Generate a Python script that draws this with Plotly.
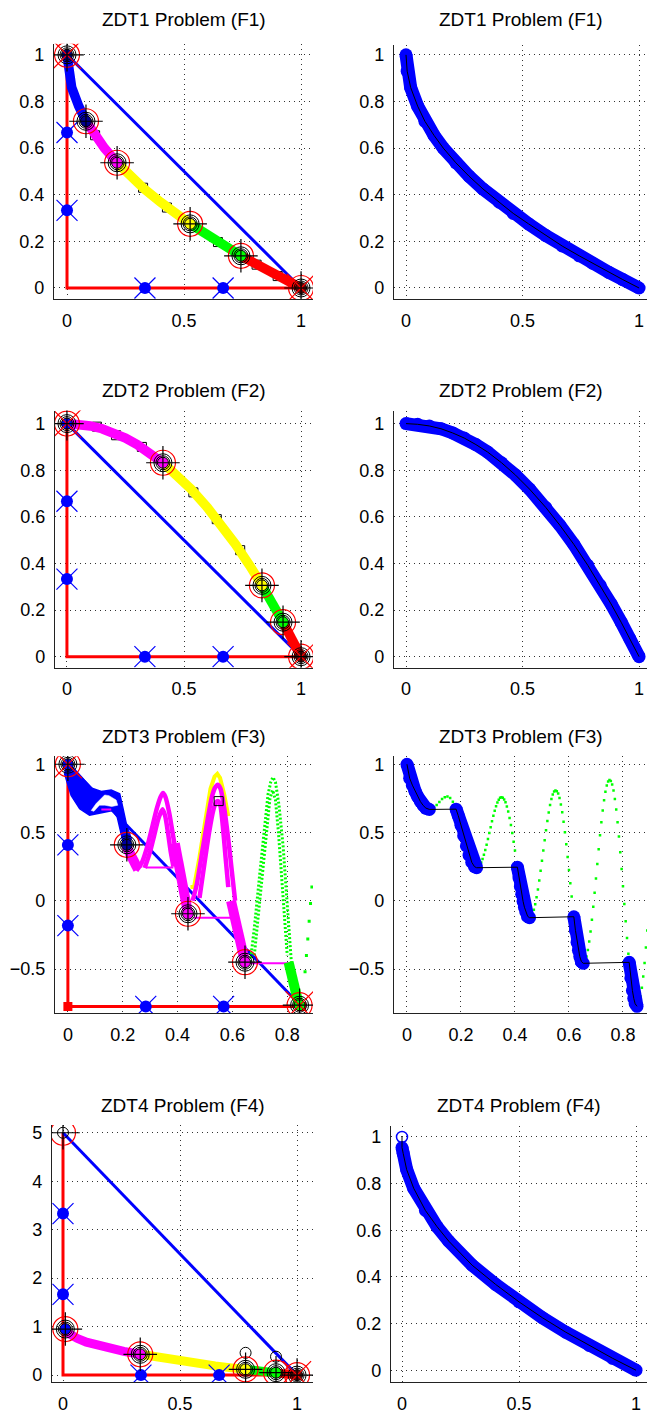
import plotly.graph_objects as go

W, H = 647, 1414
FONT = "Liberation Sans, Arial, Helvetica, sans-serif"

BLUE, MAG, YEL, GRN, RED = "#0000ff", "#ff00ff", "#ffff00", "#00ff00", "#ff0000"

# ------------------------------------------------------------------ data
titles = ["ZDT1 Problem (F1)", "ZDT1 Problem (F1)", "ZDT2 Problem (F2)", "ZDT2 Problem (F2)",
          "ZDT3 Problem (F3)", "ZDT3 Problem (F3)", "ZDT4 Problem (F4)", "ZDT4 Problem (F4)"]

# ZDT1 front
zdt1_f1 = [0, 0.005, 0.02, 0.05, 0.081, 0.12, 0.16, 0.214, 0.27, 0.33, 0.40, 0.46, 0.526,
           0.60, 0.67, 0.743, 0.80, 0.87, 0.93, 1.0]
zdt1_f2 = [1.0, 0.93, 0.86, 0.78, 0.715, 0.655, 0.60, 0.537, 0.48, 0.425, 0.368, 0.32, 0.275,
           0.225, 0.18, 0.138, 0.106, 0.067, 0.036, 0.0]
zdt1_break_f1 = [0.0, 0.081, 0.214, 0.526, 0.743, 1.0]
zdt1_break_f2 = [1.0, 0.715, 0.537, 0.275, 0.138, 0.0]
zdt1_seg_colors = [BLUE, MAG, YEL, GRN, RED]
zdt1_dot_colors = ["#000080", "#000090", MAG, YEL, GRN, "#5a0a0a"]
zdt1_sq_f1 = [0.12, 0.23, 0.325, 0.427, 0.645, 0.81, 0.90]
zdt1_sq_f2 = [0.655, 0.52, 0.43, 0.345, 0.197, 0.10, 0.051]
zdt1_ref_f1 = [0, 0, 0.333, 0.667]
zdt1_ref_f2 = [0.667, 0.333, 0, 0]
zdt1_box_f1 = [0, 0, 1.0]
zdt1_box_f2 = [1.0, 0, 0]

# ZDT2 front
zdt2_f1 = [0, 0.05, 0.10, 0.15, 0.20, 0.25, 0.30, 0.35, 0.41, 0.47, 0.53, 0.60, 0.66, 0.72,
           0.78, 0.833, 0.88, 0.923, 0.96, 1.0]
zdt2_f2 = [1.0, 0.997, 0.99, 0.978, 0.96, 0.938, 0.91, 0.878, 0.832, 0.779, 0.719, 0.64, 0.564,
           0.482, 0.392, 0.306, 0.226, 0.148, 0.078, 0.0]
zdt2_break_f1 = [0.0, 0.41, 0.833, 0.923, 1.0]
zdt2_break_f2 = [1.0, 0.832, 0.306, 0.148, 0.0]
zdt2_seg_colors = [MAG, YEL, GRN, RED]
zdt2_dot_colors = [BLUE, MAG, YEL, GRN, "#5a0a0a"]
zdt2_sq_f1 = [0.128, 0.21, 0.32, 0.54, 0.64, 0.74]
zdt2_sq_f2 = [0.987, 0.95, 0.90, 0.705, 0.59, 0.457]
zdt2_ref_f1 = [0, 0, 0.333, 0.667]
zdt2_ref_f2 = [0.667, 0.333, 0, 0]
zdt2_box_f1 = [0, 0, 1.0]
zdt2_box_f2 = [1.0, 0, 0]

# ZDT3 Pareto segments
zdt3_s1_f1 = [0, 0.01, 0.02, 0.03, 0.04, 0.05, 0.06, 0.07, 0.083]
zdt3_s1_f2 = [1.0, 0.897, 0.847, 0.803, 0.762, 0.726, 0.698, 0.679, 0.669]
zdt3_s2_f1 = [0.182, 0.19, 0.20, 0.21, 0.22, 0.23, 0.24, 0.25, 0.258]
zdt3_s2_f2 = [0.671, 0.623, 0.553, 0.477, 0.402, 0.334, 0.282, 0.25, 0.242]
zdt3_s3_f1 = [0.409, 0.415, 0.42, 0.425, 0.43, 0.435, 0.44, 0.447, 0.454]
zdt3_s3_f2 = [0.246, 0.167, 0.105, 0.048, -0.004, -0.047, -0.082, -0.114, -0.124]
zdt3_s4_f1 = [0.618, 0.624, 0.63, 0.635, 0.64, 0.646, 0.653]
zdt3_s4_f2 = [-0.117, -0.217, -0.304, -0.363, -0.409, -0.445, -0.458]
zdt3_s5_f1 = [0.823, 0.829, 0.835, 0.84, 0.845, 0.852]
zdt3_s5_f2 = [-0.451, -0.565, -0.658, -0.715, -0.754, -0.773]
# ZDT3 dominated parts of the curve (green dots)
zdt3_g_f1 = [0.09, 0.10, 0.11, 0.12, 0.13, 0.14, 0.15, 0.16, 0.17, 0.18,
             0.26, 0.27, 0.28, 0.29, 0.30, 0.31, 0.32, 0.33, 0.34, 0.35, 0.36, 0.37, 0.38, 0.39, 0.40,
             0.46, 0.47, 0.48, 0.49, 0.50, 0.51, 0.52, 0.53, 0.54, 0.55, 0.56, 0.57, 0.58, 0.59, 0.60, 0.61,
             0.66, 0.67, 0.68, 0.69, 0.70, 0.71, 0.72, 0.73, 0.74, 0.75, 0.76, 0.77, 0.78, 0.79, 0.80, 0.81, 0.82,
             0.86, 0.87, 0.88, 0.89]
zdt3_g_f2 = [0.672, 0.684, 0.702, 0.724, 0.745, 0.759, 0.763, 0.752, 0.725, 0.682,
             0.243, 0.262, 0.306, 0.372, 0.452, 0.539, 0.622, 0.692, 0.740, 0.758, 0.742, 0.691, 0.607, 0.496, 0.368,
             -0.116, -0.066, 0.025, 0.149, 0.293, 0.444, 0.585, 0.701, 0.779, 0.808, 0.785, 0.706, 0.579, 0.414, 0.225, 0.031,
             -0.440, -0.360, -0.225, -0.044, 0.163, 0.377, 0.575, 0.737, 0.844, 0.884, 0.851, 0.745, 0.576, 0.355, 0.106, -0.150, -0.388,
             -0.745, -0.637, -0.455, -0.218]
zdt3_h_f1 = [0.265, 0.275, 0.285, 0.295, 0.305, 0.315, 0.325, 0.335, 0.345, 0.355, 0.365, 0.375, 0.385, 0.395,
             0.465, 0.475, 0.485, 0.495, 0.505, 0.515, 0.525, 0.535, 0.545, 0.555, 0.565, 0.575, 0.585, 0.595, 0.605,
             0.665, 0.675, 0.685, 0.695, 0.705, 0.715, 0.725, 0.735, 0.745, 0.755, 0.765, 0.775, 0.785, 0.795, 0.805, 0.815,
             0.865, 0.875, 0.885]
zdt3_h_f2 = [0.249, 0.281, 0.337, 0.411, 0.496, 0.582, 0.660, 0.719, 0.754, 0.755, 0.721, 0.653, 0.555, 0.433,
             -0.096, -0.025, 0.083, 0.219, 0.368, 0.516, 0.646, 0.745, 0.800, 0.803, 0.752, 0.648, 0.501, 0.321, 0.128,
             -0.408, -0.299, -0.139, 0.058, 0.270, 0.479, 0.661, 0.798, 0.873, 0.877, 0.807, 0.668, 0.470, 0.232, -0.023, -0.273,
             -0.701, -0.554, -0.343]
# ZDT3 left panel (search picture)
zdt3_blue_top_f1 = [-0.006, 0.018, 0.085, 0.122, 0.158, 0.189, 0.200, 0.213, 0.231, 0.222]
zdt3_blue_top_f2 = [1.0, 0.978, 0.827, 0.80, 0.812, 0.783, 0.686, 0.564, 0.455, 0.40]
zdt3_blue_bot_f1 = [-0.012, 0.012, 0.043, 0.079, 0.116, 0.164, 0.18, 0.189, 0.20]
zdt3_blue_bot_f2 = [0.929, 0.771, 0.674, 0.626, 0.642, 0.661, 0.613, 0.527, 0.44]
zdt3_hole_f1 = [0.085, 0.103, 0.134, 0.15, 0.176, 0.182, 0.16, 0.135, 0.115, 0.095]
zdt3_hole_f2 = [0.661, 0.712, 0.775, 0.77, 0.738, 0.70, 0.69, 0.70, 0.70, 0.655]
zdt3_stair_x0 = [0.122, 0.285, 0.46, 0.655]
zdt3_stair_x1 = [0.158, 0.385, 0.595, 0.81]
zdt3_stair_y = [0.668, 0.243, -0.124, -0.458]
zdt3_thick_a_f1 = [0.213, 0.228, 0.242, 0.256]
zdt3_thick_a_f2 = [0.40, 0.33, 0.27, 0.23]
zdt3_thick_b_f1 = [0.39, 0.40, 0.41, 0.42, 0.43, 0.438]
zdt3_thick_b_f2 = [0.42, 0.33, 0.22, 0.10, 0.0, -0.09]
zdt3_thick_c_f1 = [0.595, 0.605, 0.615, 0.625, 0.635, 0.646]
zdt3_thick_c_f2 = [0.0, -0.10, -0.20, -0.29, -0.37, -0.45]
zdt3_thick_d_f1 = [0.805, 0.815, 0.825, 0.835, 0.842]
zdt3_thick_d_f2 = [-0.45, -0.55, -0.64, -0.72, -0.76]
zdt3_ha_out_f1 = [0.25, 0.27, 0.29, 0.31, 0.325, 0.338, 0.347, 0.356, 0.37, 0.385, 0.40]
zdt3_ha_out_f2 = [0.22, 0.28, 0.40, 0.56, 0.68, 0.76, 0.79, 0.76, 0.64, 0.46, 0.28]
zdt3_ha_in_f1 = [0.28, 0.30, 0.315, 0.33, 0.345, 0.355, 0.365, 0.375, 0.385]
zdt3_ha_in_f2 = [0.24, 0.36, 0.48, 0.60, 0.67, 0.62, 0.50, 0.36, 0.25]
zdt3_hb_yel_f1 = [0.447, 0.46, 0.48, 0.50, 0.52, 0.535, 0.545, 0.555, 0.57, 0.585]
zdt3_hb_yel_f2 = [0.10, 0.10, 0.32, 0.58, 0.82, 0.91, 0.93, 0.90, 0.78, 0.62]
zdt3_hb_out_f1 = [0.455, 0.47, 0.49, 0.51, 0.525, 0.537, 0.547, 0.557, 0.57, 0.585, 0.60, 0.61]
zdt3_hb_out_f2 = [0.0, 0.12, 0.36, 0.60, 0.76, 0.83, 0.85, 0.82, 0.68, 0.45, 0.18, 0.0]
zdt3_hb_in_f1 = [0.48, 0.50, 0.515, 0.53, 0.54, 0.548, 0.556, 0.565, 0.575, 0.585]
zdt3_hb_in_f2 = [0.02, 0.30, 0.50, 0.66, 0.72, 0.73, 0.70, 0.55, 0.32, 0.10]
zdt3_hc_out_f1 = [0.665, 0.68, 0.70, 0.715, 0.73, 0.74, 0.748, 0.757, 0.77, 0.785, 0.80, 0.815]
zdt3_hc_out_f2 = [-0.45, -0.20, 0.20, 0.50, 0.78, 0.87, 0.905, 0.87, 0.70, 0.40, 0.0, -0.45]
zdt3_hc_in_f1 = [0.68, 0.695, 0.71, 0.725, 0.737, 0.747, 0.757, 0.768, 0.78, 0.79, 0.80]
zdt3_hc_in_f2 = [-0.40, -0.10, 0.25, 0.55, 0.75, 0.81, 0.74, 0.50, 0.15, -0.15, -0.40]
zdt3_tail_f1 = [0.865, 0.87, 0.875, 0.88, 0.885, 0.89]
zdt3_tail_f2 = [-0.52, -0.40, -0.28, -0.15, -0.02, 0.10]
zdt3_break_f1 = [0.0, 0.215, 0.438, 0.646, 0.845]
zdt3_break_f2 = [1.0, 0.41, -0.095, -0.45, -0.765]
zdt3_dot_colors = [BLUE, "#0000a0", MAG, MAG, GRN]
zdt3_sq_f1 = [0.55]
zdt3_sq_f2 = [0.73]
zdt3_ref_f1 = [0, 0, 0.284, 0.568]
zdt3_ref_f2 = [0.409, -0.182, -0.774, -0.774]
zdt3_box_f1 = [0, 0, 0.852]
zdt3_box_f2 = [1.0, -0.774, -0.774]

# ZDT4 front
zdt4_f1 = [0, 0.01, 0.03, 0.06, 0.10, 0.15, 0.20, 0.26, 0.33, 0.40, 0.48, 0.56, 0.65, 0.72,
           0.78, 0.85, 0.91, 0.96, 1.0]
zdt4_f2 = [1.0, 0.90, 0.83, 0.76, 0.68, 0.61, 0.55, 0.49, 0.43, 0.37, 0.31, 0.25, 0.19, 0.15,
           0.12, 0.08, 0.046, 0.02, 0.0]
zdt4_break_f1 = [0.01, 0.33, 0.78, 0.91, 1.0]
zdt4_break_f2 = [0.95, 0.43, 0.12, 0.05, 0.0]
zdt4_seg_breaks = [0.0, 0.01, 0.33, 0.78, 0.91, 1.0]
zdt4_seg_colors = [BLUE, MAG, YEL, GRN, RED]
zdt4_dot_colors = [BLUE, MAG, YEL, GRN, "#5a0a0a"]
zdt4_small_f1 = [0.0, 0.78, 0.91]
zdt4_small_f2 = [5.0, 0.46, 0.38]
zdt4_ref_f1 = [0, 0, 0.333, 0.667]
zdt4_ref_f2 = [3.333, 1.667, 0, 0]
zdt4_box_f1 = [0, 0, 1.0]
zdt4_box_f2 = [5.0, 0, 0]
zdt4r_f1 = [0, 0.005, 0.02, 0.05, 0.10, 0.15, 0.20, 0.30, 0.40, 0.50, 0.60, 0.70, 0.80, 0.90, 1.0]
zdt4r_f2 = [0.955, 0.93, 0.86, 0.78, 0.685, 0.615, 0.553, 0.45, 0.368, 0.293, 0.225, 0.163, 0.106, 0.051, 0.0]
zdt4r_iso_f1 = [0.0]
zdt4r_iso_f2 = [1.0]

# ------------------------------------------------------------------ layout geometry (pixels)
# (left, right, top, bottom) of each axes box, and axis ranges
boxes = [(54, 313, 42, 298), (394, 647, 43, 298),
         (55, 313, 410, 668), (394, 647, 410, 668),
         (55, 313, 757, 1015), (394, 647, 757, 1015),
         (52, 313, 1127, 1385), (391, 647, 1128, 1385)]
xranges = [[-0.0556, 1.051], [-0.0515, 1.034], [-0.051, 1.051], [-0.0515, 1.034],
           [-0.047, 0.894], [-0.048, 0.889], [-0.047, 1.068], [-0.047, 1.047]]
yranges = [[-0.047, 1.047], [-0.047, 1.043], [-0.047, 1.056], [-0.047, 1.056],
           [-0.825, 1.058], [-0.825, 1.058], [-0.144, 5.16], [-0.051, 1.047]]
xt01 = [0, 0.5, 1]
yt01 = [0, 0.2, 0.4, 0.6, 0.8, 1]
xticks = [xt01, xt01, xt01, xt01, [0, 0.2, 0.4, 0.6, 0.8], [0, 0.2, 0.4, 0.6, 0.8], xt01, xt01]
yticks = [yt01, yt01, yt01, yt01, [-0.5, 0, 0.5, 1], [-0.5, 0, 0.5, 1], [0, 1, 2, 3, 4, 5], yt01]
title_y = [18, 18, 390, 390, 737, 737, 1107, 1107]

fig = go.Figure()


def axn(k):
    return ("x" if k == 1 else f"x{k}"), ("y" if k == 1 else f"y{k}")


def add(k, **kw):
    xa, ya = axn(k)
    fig.add_trace(go.Scatter(xaxis=xa, yaxis=ya, showlegend=False, hoverinfo="skip", **kw))


def seg_slice(xs, ys, a, b):
    pts = [(x, y) for x, y in zip(xs, ys) if a - 1e-9 <= x <= b + 1e-9]
    return [p[0] for p in pts], [p[1] for p in pts]


def frame_lines(k, bx, by):
    add(k, x=bx, y=by, mode="lines", line=dict(color=RED, width=3))
    add(k, x=[bx[0], bx[2]], y=[by[0], by[2]], mode="lines", line=dict(color=BLUE, width=3))


def ref_points(k, rx, ry):
    add(k, x=rx, y=ry, mode="markers", marker=dict(symbol="circle", size=12, color=BLUE))
    add(k, x=rx, y=ry, mode="markers",
        marker=dict(symbol="x-thin", size=21, color=BLUE, line=dict(width=1.2, color=BLUE)))


def cluster(k, cx, cy, fills, endx=(), endy=()):
    add(k, x=cx, y=cy, mode="markers",
        marker=dict(symbol="circle-open", size=25, color=RED, line=dict(width=1.2, color=RED)))
    add(k, x=cx, y=cy, mode="markers",
        marker=dict(symbol="circle-open", size=18, color="black", line=dict(width=1, color="black")))
    add(k, x=cx, y=cy, mode="markers",
        marker=dict(symbol="circle", size=11, color=fills, line=dict(width=1, color="black")))
    add(k, x=cx, y=cy, mode="markers",
        marker=dict(symbol="circle-open", size=14, color="black", line=dict(width=1, color="black")))
    if endx:
        add(k, x=list(endx), y=list(endy), mode="markers",
            marker=dict(symbol="x-thin", size=28, color=RED, line=dict(width=1.2, color=RED)))
    add(k, x=cx, y=cy, mode="markers",
        marker=dict(symbol="cross-thin", size=24, color="black", line=dict(width=1.2, color="black")))


def front_segments(k, fx, fy, breaks, colors, width=9.5):
    for i, c in enumerate(colors):
        sx, sy = seg_slice(fx, fy, breaks[i], breaks[i + 1])
        add(k, x=sx, y=sy, mode="lines", line=dict(color=c, width=width))


def squares(k, sx, sy):
    add(k, x=sx, y=sy, mode="markers",
        marker=dict(symbol="square-open", size=9, color="black", line=dict(width=1, color="black")))


def right_band(k, fx, fy):
    add(k, x=fx, y=fy, mode="lines+markers", line=dict(color=BLUE, width=13),
        marker=dict(symbol="circle", size=13, color=BLUE))


# ---------------- panel 1 : ZDT1 left
frame_lines(1, zdt1_box_f1, zdt1_box_f2)
squares(1, zdt1_sq_f1, zdt1_sq_f2)
front_segments(1, zdt1_f1, zdt1_f2, zdt1_break_f1, zdt1_seg_colors)
ref_points(1, zdt1_ref_f1, zdt1_ref_f2)
cluster(1, zdt1_break_f1, zdt1_break_f2, zdt1_dot_colors,
        [zdt1_break_f1[0], zdt1_break_f1[-1]], [zdt1_break_f2[0], zdt1_break_f2[-1]])

# ---------------- panel 2 : ZDT1 right
right_band(2, zdt1_f1, zdt1_f2)
add(2, x=zdt1_f1, y=zdt1_f2, mode="lines", line=dict(color="black", width=1))

# ---------------- panel 3 : ZDT2 left
frame_lines(3, zdt2_box_f1, zdt2_box_f2)
squares(3, zdt2_sq_f1, zdt2_sq_f2)
front_segments(3, zdt2_f1, zdt2_f2, zdt2_break_f1, zdt2_seg_colors)
ref_points(3, zdt2_ref_f1, zdt2_ref_f2)
cluster(3, zdt2_break_f1, zdt2_break_f2, zdt2_dot_colors,
        [zdt2_break_f1[0], zdt2_break_f1[-1]], [zdt2_break_f2[0], zdt2_break_f2[-1]])

# ---------------- panel 4 : ZDT2 right
right_band(4, zdt2_f1, zdt2_f2)
add(4, x=zdt2_f1, y=zdt2_f2, mode="lines", line=dict(color="black", width=1))

# ---------------- panel 5 : ZDT3 left
frame_lines(5, zdt3_box_f1, zdt3_box_f2)
add(5, x=[zdt3_box_f1[1], zdt3_box_f1[2]], y=[zdt3_box_f2[1], zdt3_box_f2[2]], mode="markers",
    marker=dict(symbol="square", size=9, color=RED))
poly_x = zdt3_blue_top_f1 + zdt3_blue_bot_f1[::-1]
poly_y = zdt3_blue_top_f2 + zdt3_blue_bot_f2[::-1]
add(5, x=poly_x + [poly_x[0]], y=poly_y + [poly_y[0]], mode="lines", fill="toself",
    fillcolor=BLUE, line=dict(color=BLUE, width=1.5))
add(5, x=zdt3_hole_f1 + [zdt3_hole_f1[0]], y=zdt3_hole_f2 + [zdt3_hole_f2[0]], mode="lines",
    fill="toself", fillcolor="white", line=dict(color="white", width=0.5))
st_x, st_y = [], []
for a, b, yv in zip(zdt3_stair_x0, zdt3_stair_x1, zdt3_stair_y):
    st_x += [a, b, None]
    st_y += [yv, yv, None]
add(5, x=st_x, y=st_y, mode="lines", line=dict(color=MAG, width=2))
add(5, x=zdt3_hb_yel_f1, y=zdt3_hb_yel_f2, mode="lines", line=dict(color=YEL, width=4))
for hx, hy in [(zdt3_ha_out_f1, zdt3_ha_out_f2), (zdt3_ha_in_f1, zdt3_ha_in_f2),
               (zdt3_hb_out_f1, zdt3_hb_out_f2), (zdt3_hb_in_f1, zdt3_hb_in_f2)]:
    add(5, x=hx, y=hy, mode="lines", line=dict(color=MAG, width=4.5, shape="spline", smoothing=0.6))
for hx, hy in [(zdt3_hc_out_f1, zdt3_hc_out_f2), (zdt3_hc_in_f1, zdt3_hc_in_f2)]:
    add(5, x=hx, y=hy, mode="lines", line=dict(color=GRN, width=3, dash="2px,2px"))
for tx, ty in [(zdt3_thick_a_f1, zdt3_thick_a_f2), (zdt3_thick_b_f1, zdt3_thick_b_f2),
               (zdt3_thick_c_f1, zdt3_thick_c_f2)]:
    add(5, x=tx, y=ty, mode="lines", line=dict(color=MAG, width=10))
add(5, x=zdt3_thick_d_f1, y=zdt3_thick_d_f2, mode="lines", line=dict(color=GRN, width=10))
add(5, x=zdt3_tail_f1, y=zdt3_tail_f2, mode="markers", marker=dict(symbol="square", size=3, color=GRN))
squares(5, zdt3_sq_f1, zdt3_sq_f2)
ref_points(5, zdt3_ref_f1, zdt3_ref_f2)
cluster(5, zdt3_break_f1, zdt3_break_f2, zdt3_dot_colors,
        [zdt3_break_f1[0], zdt3_break_f1[-1]], [zdt3_break_f2[0], zdt3_break_f2[-1]])

# ---------------- panel 6 : ZDT3 right
add(6, x=zdt3_g_f1, y=zdt3_g_f2, mode="markers", marker=dict(symbol="square", size=2.5, color=GRN))
add(6, x=zdt3_h_f1, y=zdt3_h_f2, mode="markers", marker=dict(symbol="square", size=2.5, color=GRN))
for sx, sy in [(zdt3_s1_f1, zdt3_s1_f2), (zdt3_s2_f1, zdt3_s2_f2), (zdt3_s3_f1, zdt3_s3_f2),
               (zdt3_s4_f1, zdt3_s4_f2), (zdt3_s5_f1, zdt3_s5_f2)]:
    right_band(6, sx, sy)
all3_x = zdt3_s1_f1 + zdt3_s2_f1 + zdt3_s3_f1 + zdt3_s4_f1 + zdt3_s5_f1
all3_y = zdt3_s1_f2 + zdt3_s2_f2 + zdt3_s3_f2 + zdt3_s4_f2 + zdt3_s5_f2
add(6, x=all3_x, y=all3_y, mode="lines", line=dict(color="black", width=1))

# ---------------- panel 7 : ZDT4 left
frame_lines(7, zdt4_box_f1, zdt4_box_f2)
front_segments(7, zdt4_f1, zdt4_f2, zdt4_seg_breaks, zdt4_seg_colors, width=9)
ref_points(7, zdt4_ref_f1, zdt4_ref_f2)
add(7, x=zdt4_small_f1, y=zdt4_small_f2, mode="markers",
    marker=dict(symbol="circle-open", size=11, color="black", line=dict(width=1, color="black")))
add(7, x=[zdt4_box_f1[0]], y=[zdt4_box_f2[0]], mode="markers",
    marker=dict(symbol="circle-open", size=25, color=RED, line=dict(width=1.2, color=RED)))
add(7, x=[zdt4_box_f1[0]], y=[zdt4_box_f2[0]], mode="markers",
    marker=dict(symbol="cross-thin", size=24, color="black", line=dict(width=1.2, color="black")))
cluster(7, zdt4_break_f1, zdt4_break_f2, zdt4_dot_colors,
        [zdt4_break_f1[-1]], [zdt4_break_f2[-1]])

# ---------------- panel 8 : ZDT4 right
add(8, x=zdt4r_iso_f1, y=zdt4r_iso_f2, mode="markers",
    marker=dict(symbol="circle-open", size=11, color=BLUE, line=dict(width=1.5, color=BLUE)))
right_band(8, zdt4r_f1, zdt4r_f2)
add(8, x=[zdt4r_iso_f1[0]] + zdt4r_f1, y=[zdt4r_iso_f2[0]] + zdt4r_f2, mode="lines",
    line=dict(color="black", width=1))

# ------------------------------------------------------------------ axes
layout = dict(width=W, height=H, margin=dict(l=0, r=0, t=0, b=0),
              paper_bgcolor="white", plot_bgcolor="white", showlegend=False,
              font=dict(family=FONT, size=18, color="black"), annotations=[])
for i in range(8):
    k = i + 1
    l, r, t, b = boxes[i]
    common = dict(showgrid=True, gridcolor="#333333", griddash="1px,4px", gridwidth=1,
                  showline=True, linecolor="#222222", linewidth=1.2, zeroline=False,
                  ticks="outside", ticklen=5, tickcolor="rgba(0,0,0,0)",
                  tickfont=dict(family=FONT, size=18, color="black"), fixedrange=True)
    xa = dict(domain=[l / W, r / W], range=xranges[i], tickvals=xticks[i],
              anchor=axn(k)[1], **common)
    ya = dict(domain=[1 - b / H, 1 - t / H], range=yranges[i], tickvals=yticks[i],
              anchor=axn(k)[0], **common)
    layout["xaxis" if k == 1 else f"xaxis{k}"] = xa
    layout["yaxis" if k == 1 else f"yaxis{k}"] = ya
    layout["annotations"].append(dict(text=titles[i], x=(l + r) / 2 / W, y=1 - title_y[i] / H,
                                      xref="paper", yref="paper", xanchor="center", yanchor="middle",
                                      showarrow=False, font=dict(family=FONT, size=19, color="black")))

fig.update_layout(**layout)
fig.write_html("out.html", config={"displayModeBar": False},
               post_script="document.body.style.margin='0';document.body.style.overflow='hidden';")
